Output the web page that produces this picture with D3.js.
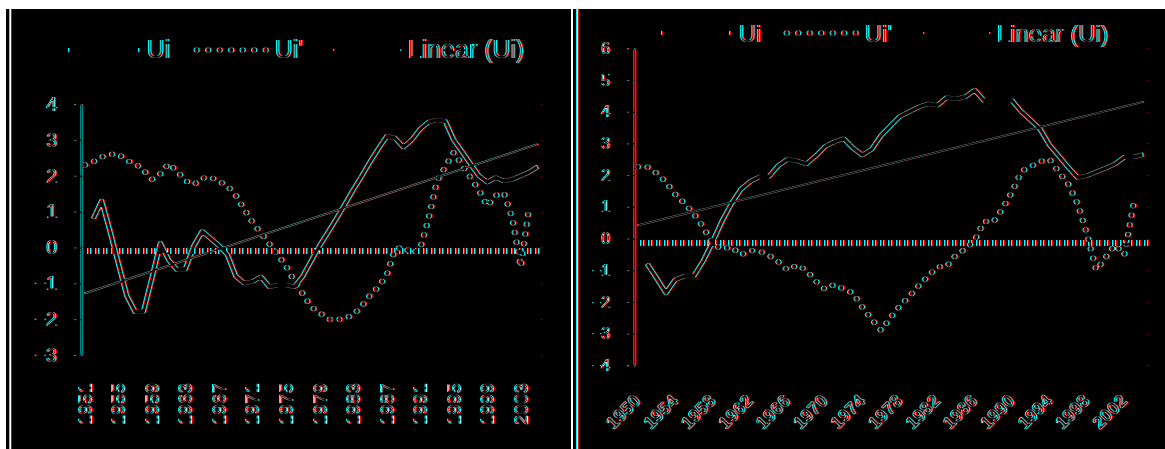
<!DOCTYPE html>
<html>
<head>
<meta charset="utf-8">
<script src="https://cdnjs.cloudflare.com/ajax/libs/d3/7.8.5/d3.min.js"></script>
<style>
body { margin: 0; background: #fff; }
svg { display: block; }
text { font-family: "Liberation Sans", Arial, sans-serif; fill: #000; }
</style>
</head>
<body>
<svg id="chart"></svg>
<script>
// left chart data (1951-2005)
var leftYears = d3.range(1951, 2006);
var leftUi = [null, 0.8, 1.3, 0.45, -0.45, -1.35, -1.8, -1.78, -0.85, 0.12,
  -0.35, -0.63, -0.6, 0.05, 0.45, 0.25, 0.05, -0.2, -0.8, -1.0,
  -0.95, -0.82, -1.1, -1.05, -1.05, -1.1, -0.8, -0.37, 0.05, 0.42,
  0.8, 1.2, 1.6, 1.98, 2.38, 2.75, 3.1, 3.05, 2.8, 3.0,
  3.3, 3.5, 3.55, 3.52, 3.0, 2.67, 2.33, 2.0, 1.82, 1.95,
  1.85, 1.9, 2.0, 2.1, 2.25];
var leftUiP = [2.3, 2.39, 2.52, 2.6, 2.6, 2.42, 2.34, 2.15, 1.9, 2.05,
  2.34, 2.12, 1.86, 1.75, 1.93, 1.96, 1.84, 1.72, 1.45, 1.07,
  0.7, 0.4, 0.1, -0.2, -0.52, -0.95, -1.3, -1.66, -1.82, -2.0,
  -2.02, -1.98, -1.88, -1.65, -1.34, -1.1, -0.78, -0.05, 0.02, -0.17,
  -0.03, 0.8, 1.85, 2.25, 2.65, 2.3, 1.95, 1.6, 1.15, 1.45,
  1.52, 0.8, -0.55, 1.15, null];
var leftTrend = [-1.28, 2.88];
var leftYTicks = [4, 3, 2, 1, 0, -1, -2, -3];
var leftXTicks = [1951, 1955, 1959, 1963, 1967, 1971, 1975, 1979, 1983, 1987, 1991, 1995, 1999, 2003];

// right chart data (1950-2004)
var rightYears = d3.range(1950, 2005);
var rightUi = [null, -0.8, -1.25, -1.72, -1.3, -1.19, -1.17, -0.7, -0.1, 0.55,
  1.1, 1.55, 1.8, 1.95, 1.95, 2.3, 2.5, 2.45, 2.35, 2.6,
  2.9, 3.05, 3.15, 2.85, 2.63, 2.82, 3.25, 3.55, 3.85, 4.0,
  4.15, 4.25, 4.2, 4.45, 4.4, 4.47, 4.68, 4.35, 4.35, 4.35,
  4.35, 4.0, 3.73, 3.45, 2.95, 2.6, 2.25, 1.92, 1.98, 2.1,
  2.22, 2.35, 2.57, 2.57, 2.65];
var rightUiP = [2.26, 2.26, 2.06, 1.78, 1.39, 1.1, 0.78, 0.35, -0.17, -0.34,
  -0.26, -0.52, -0.38, -0.4, -0.53, -0.73, -1.0, -0.84, -1.0, -1.34,
  -1.6, -1.45, -1.6, -1.72, -2.17, -2.55, -2.9, -2.5, -2.13, -1.83,
  -1.5, -1.19, -0.9, -0.88, -0.52, -0.33, -0.06, 0.54, 0.52, 0.95,
  1.47, 2.12, 2.27, 2.43, 2.5, 2.1, 1.72, 1.1, 0.15, -1.0,
  -0.6, -0.2, -0.52, 1.1, null];
var rightTrend = [0.42, 4.31];
var rightYTicks = [6, 5, 4, 3, 2, 1, 0, -1, -2, -3, -4];
var rightXTicks = [1950, 1954, 1958, 1962, 1966, 1970, 1974, 1978, 1982, 1986, 1990, 1994, 1998, 2002];

var legendLabels = ["Ui", "Ui'", "Linear (Ui)"];

function init() {
    var svg = d3.select("#chart").attr("width", 1165).attr("height", 449);
    var defs = svg.append("defs");

    //horizontal edge filter with a small red shift
    function addFilter(id, x, y, w, h) {
        var f = defs.append("filter").attr("id", id)
            .attr("filterUnits", "userSpaceOnUse")
            .attr("x", x).attr("y", y).attr("width", w).attr("height", h)
            .attr("color-interpolation-filters", "sRGB");
        f.append("feConvolveMatrix").attr("in", "SourceGraphic").attr("order", "2 1")
            .attr("kernelMatrix", "1 -1").attr("divisor", 1).attr("preserveAlpha", "true")
            .attr("edgeMode", "duplicate").attr("result", "a");
        f.append("feConvolveMatrix").attr("in", "SourceGraphic").attr("order", "2 1")
            .attr("kernelMatrix", "-1 1").attr("divisor", 1).attr("preserveAlpha", "true")
            .attr("edgeMode", "duplicate").attr("result", "b");
        f.append("feComposite").attr("in", "a").attr("in2", "b").attr("operator", "arithmetic")
            .attr("k2", 1).attr("k3", 1).attr("result", "e");
        f.append("feColorMatrix").attr("in", "e").attr("type", "matrix")
            .attr("values", "1 0 0 0 0  0 0 0 0 0  0 0 0 0 0  0 0 0 1 0").attr("result", "r");
        f.append("feOffset").attr("in", "r").attr("dx", 1).attr("dy", 0).attr("result", "rs");
        f.append("feColorMatrix").attr("in", "e").attr("type", "matrix")
            .attr("values", "0 0 0 0 0  0 1 0 0 0  0 0 1 0 0  0 0 0 1 0").attr("result", "gb");
        f.append("feComposite").attr("in", "rs").attr("in2", "gb").attr("operator", "arithmetic")
            .attr("k2", 1).attr("k3", 1);
    }

    function drawPanel(cfg) {
        addFilter(cfg.id, cfg.x0, 9, cfg.w, 440);
        var g = svg.append("g").attr("filter", "url(#" + cfg.id + ")");
        g.append("rect").attr("x", cfg.x0).attr("y", 9).attr("width", cfg.w).attr("height", 440)
            .attr("fill", "#fff");

        //chart border
        g.append("line").attr("x1", cfg.x0 + 3.5).attr("x2", cfg.x0 + 3.5)
            .attr("y1", 9).attr("y2", 449).attr("stroke", "#000").attr("stroke-width", 1);

        var x = d3.scalePoint().domain(cfg.years).range(cfg.plotX).padding(0.5);
        var y = d3.scaleLinear().domain(cfg.yDomain).range(cfg.yRange);

        //gridlines (only their ends survive the filter)
        g.selectAll(".grid").data(cfg.yTicks).enter().append("line")
            .attr("x1", cfg.plotX[0]).attr("x2", cfg.plotX[1])
            .attr("y1", function(d) { return Math.round(y(d)) + 0.5; })
            .attr("y2", function(d) { return Math.round(y(d)) + 0.5; })
            .attr("stroke", "#bbb");

        //y axis
        var yAxis = d3.axisLeft(y).tickValues(cfg.yTicks).tickSize(6).tickPadding(cfg.yPad)
            .tickFormat(d3.format("d"));
        var ya = g.append("g").attr("transform", "translate(" + (Math.round(cfg.plotX[0]) + 0.5) + ",0)")
            .call(yAxis);
        ya.select(".domain").attr("stroke", "#000");
        ya.selectAll(".tick line").attr("stroke", "#000");
        ya.selectAll("text").attr("font-size", cfg.yFont).attr("fill", "#000")
            .attr("font-family", "Liberation Sans, Arial, sans-serif");

        //dotted zero line
        g.append("line").attr("x1", Math.round(cfg.plotX[0]) + 7).attr("x2", Math.round(cfg.plotX[1]) + 1)
            .attr("y1", Math.round(y(0)) + 4).attr("y2", Math.round(y(0)) + 4)
            .attr("stroke", "#000").attr("stroke-width", 6)
            .attr("stroke-dasharray", "3 5");

        //x labels
        g.selectAll(".xl").data(cfg.xTicks).enter().append("text")
            .attr("transform", function(d) { return cfg.xLabelPos(x(d)); })
            .attr("text-anchor", "end")
            .attr("dy", cfg.xDy)
            .attr("font-size", cfg.xFont)
            .attr("font-weight", cfg.xWeight)
            .text(function(d) { return d; });

        var line = d3.line()
            .defined(function(d) { return d.v !== null; })
            .x(function(d) { return x(d.year); })
            .y(function(d) { return y(d.v); });

        var uiP = cfg.years.map(function(yr, i) { return {year: yr, v: cfg.uiP[i]}; });
        var ui = cfg.years.map(function(yr, i) { return {year: yr, v: cfg.ui[i]}; });
        var trend = [{year: cfg.years[0], v: cfg.trend[0]},
                     {year: cfg.years[cfg.years.length - 1], v: cfg.trend[1]}];

        g.append("path").datum(uiP).attr("d", line).attr("fill", "none")
            .attr("stroke", "#000").attr("stroke-width", 5)
            .attr("stroke-linecap", "round").attr("stroke-dasharray", "0.1 9.7");
        g.append("path").datum(ui).attr("d", line).attr("fill", "none")
            .attr("stroke", "#000").attr("stroke-width", 4).attr("stroke-linejoin", "round");
        g.append("path").datum(trend).attr("d", line).attr("fill", "none")
            .attr("stroke", "#000").attr("stroke-width", 1.5);

        //legend
        var L = cfg.legend;
        var lg = g.append("g");
        lg.append("line").attr("x1", L.s[0][0]).attr("x2", L.s[0][1]).attr("y1", L.ly).attr("y2", L.ly)
            .attr("stroke", "#000").attr("stroke-width", 4);
        lg.append("line").attr("x1", L.s[1][0]).attr("x2", L.s[1][1]).attr("y1", L.ly).attr("y2", L.ly)
            .attr("stroke", "#000").attr("stroke-width", 5)
            .attr("stroke-linecap", "round").attr("stroke-dasharray", "0.1 11.4");
        lg.append("line").attr("x1", L.s[2][0]).attr("x2", L.s[2][1]).attr("y1", L.ly).attr("y2", L.ly)
            .attr("stroke", "#000").attr("stroke-width", 1.5);
        lg.selectAll(".lt").data(legendLabels).enter().append("text")
            .attr("x", function(d, i) { return L.t[i]; })
            .attr("y", L.ty)
            .attr("font-size", L.font)
            .text(function(d) { return d; });
    }

    drawPanel({
        id: "edgeL", x0: 6, w: 565,
        years: leftYears, ui: leftUi, uiP: leftUiP, trend: leftTrend,
        yTicks: leftYTicks, xTicks: leftXTicks,
        plotX: [80, 541], yDomain: [-3, 4], yRange: [355, 104],
        yFont: 20, yPad: 18,
        xFont: 19, xWeight: "normal", xDy: "0.35em",
        xLabelPos: function(cx) { return "translate(" + cx + ",383) rotate(-90)"; },
        legend: {ly: 50, ty: 58, font: 25,
                 s: [[68, 138], [196, 266], [333, 400]], t: [146, 274, 407]}
    });

    drawPanel({
        id: "edgeR", x0: 573, w: 592,
        years: rightYears, ui: rightUi, uiP: rightUiP, trend: rightTrend,
        yTicks: rightYTicks, xTicks: rightXTicks,
        plotX: [632.5, 1147], yDomain: [-4, 6], yRange: [365.3, 48.3],
        yFont: 16, yPad: 18,
        xFont: 18, xWeight: "bold", xDy: "0",
        xLabelPos: function(cx) { return "translate(" + (cx + 4) + ",402) rotate(-45)"; },
        legend: {ly: 33, ty: 42, font: 24,
                 s: [[661, 729], [786, 855], [923, 989]], t: [738, 864, 996]}
    });
}
window.onload = init;
</script>
</body>
</html>
